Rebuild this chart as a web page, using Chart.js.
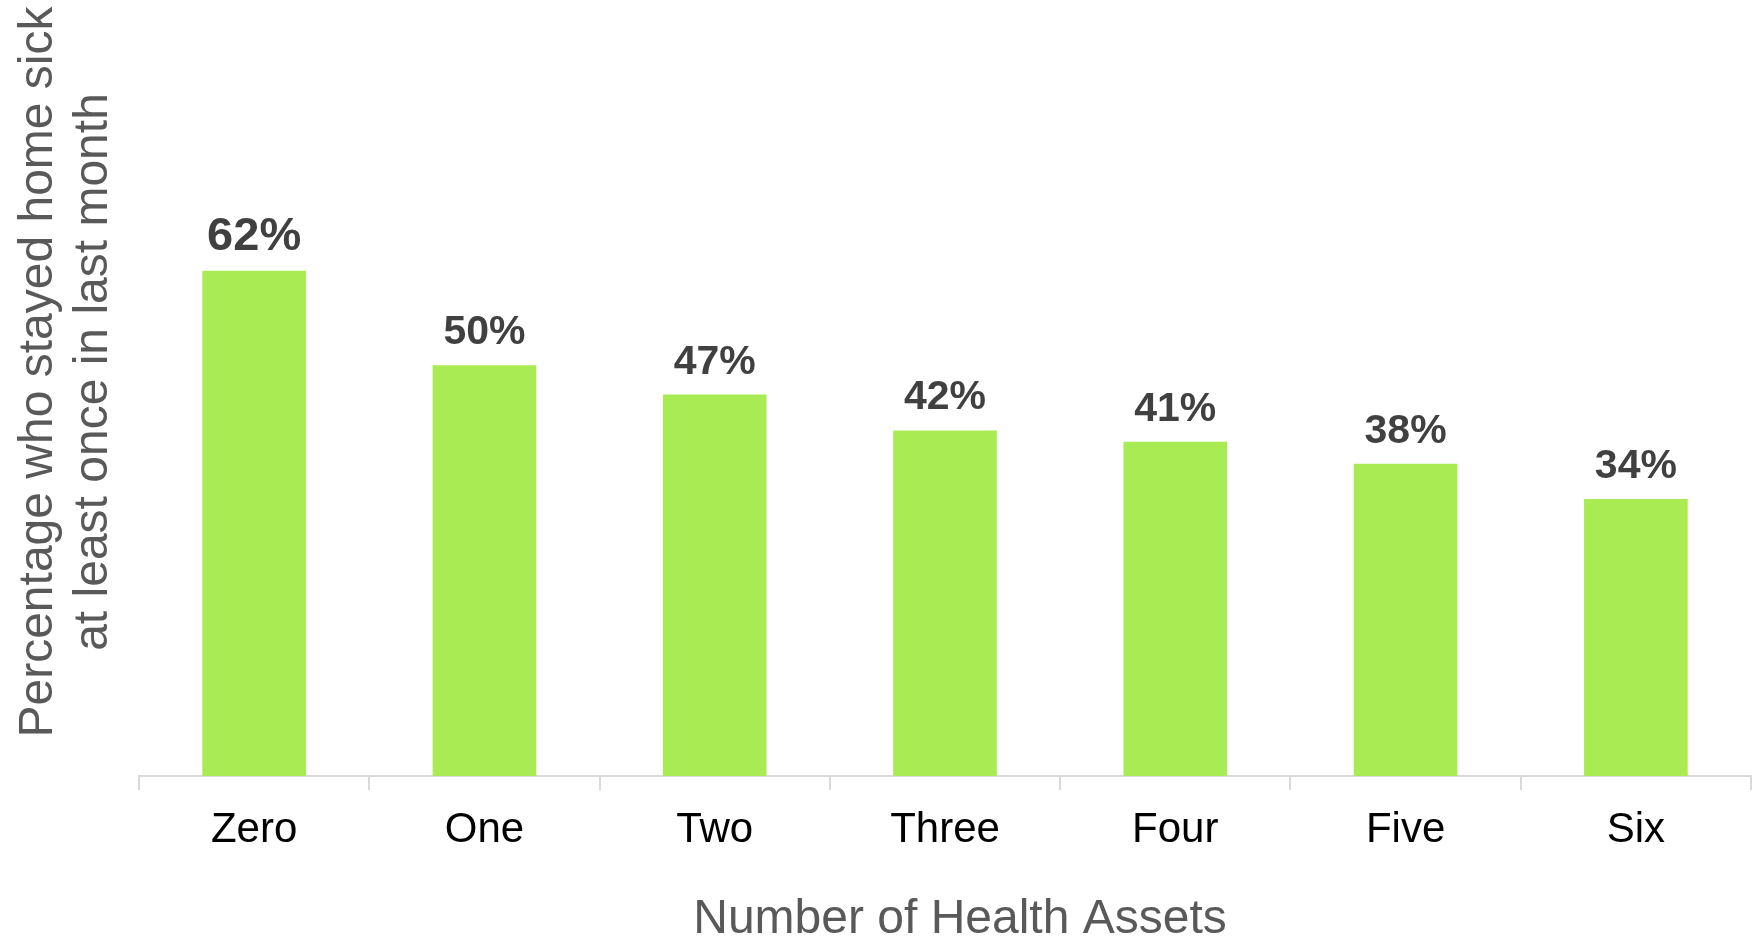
<!DOCTYPE html>
<html>
<head>
<meta charset="utf-8">
<script src="https://cdn.jsdelivr.net/npm/chart.js@4.4.1/dist/chart.umd.min.js"></script>
<style>
	html, body { margin: 0; padding: 0; background: #fff; }
	#wrap { width: 1754px; height: 937px; }
</style>
</head>
<body>
<div id="wrap"><canvas id="assetsChart" width="1754" height="937"></canvas></div>
<script>
const categories = ["Zero", "One", "Two", "Three", "Four", "Five", "Six"];
const stayedHomePct = [62, 50.4, 46.8, 42.4, 41, 38.3, 34];
const yTitleLines = ["Percentage who stayed home sick", "at least once in last month"];
const xTitle = "Number of Health Assets";

const FONT = "'Liberation Sans', Arial, sans-serif";

// value labels above each bar
let barLabels = {
	id: "barLabels",
	afterDatasetsDraw: function (chart) {
		let ctx = chart.ctx;
		let meta = chart.getDatasetMeta(0);
		ctx.save();
		ctx.fillStyle = "#404040";
		ctx.textAlign = "center";
		ctx.textBaseline = "alphabetic";
		meta.data.forEach(function (bar, i) {
			let size = i === 0 ? 47 : 41;
			ctx.font = "bold " + size + "px " + FONT;
			ctx.fillText(Math.round(stayedHomePct[i]) + "%", bar.x, bar.y - 21);
		});
		ctx.restore();
	}
};

// axis titles: two-line rotated y title, x title sitting a bit right of centre
let axisTitles = {
	id: "axisTitles",
	afterDraw: function (chart) {
		let ctx = chart.ctx;
		let area = chart.chartArea;
		ctx.save();
		ctx.fillStyle = "#595959";
		ctx.font = "48px " + FONT;
		ctx.textAlign = "center";
		ctx.textBaseline = "alphabetic";
		ctx.fillText(xTitle, (area.left + area.right) / 2 + 15, 933);
		ctx.translate(0, 372);
		ctx.rotate(-Math.PI / 2);
		ctx.fillText(yTitleLines[0], 0, 52);
		ctx.fillText(yTitleLines[1], 0, 107);
		ctx.restore();
	}
};

let chart = new Chart("assetsChart", {
	type: "bar",
	data: {
		labels: categories,
		datasets: [{
			data: stayedHomePct,
			backgroundColor: "#a9eb53",
			borderWidth: 0,
			barPercentage: 0.45,
			categoryPercentage: 1
		}]
	},
	options: {
		responsive: false,
		animation: false,
		layout: { padding: { left: 139, right: 3, top: 205.5, bottom: 66.6 } },
		plugins: {
			legend: { display: false },
			tooltip: { enabled: false }
		},
		scales: {
			y: { display: false, min: 0, max: 70 },
			x: {
				border: { color: "#d9d9d9", width: 2 },
				grid: { drawOnChartArea: false, color: "#d9d9d9", lineWidth: 2, tickLength: 14 },
				ticks: { color: "#000", padding: 15, font: { family: FONT, size: 42 } }
			}
		}
	},
	plugins: [barLabels, axisTitles]
});
</script>
</body>
</html>
